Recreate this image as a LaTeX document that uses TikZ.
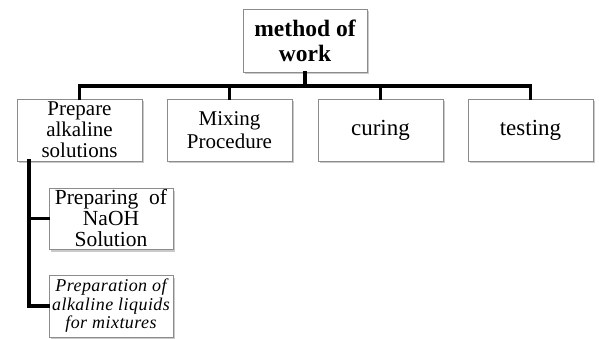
\documentclass[tikz,border=0pt]{standalone}
\usepackage{fontspec}
\setmainfont{Liberation Serif}
\usetikzlibrary{shadows}
\begin{document}
\begin{tikzpicture}[x=1pt,y=-1pt,
  box/.style={draw=black!45, line width=0.9pt, fill=white, align=center,
    minimum width=#1, inner sep=1pt,
    drop shadow={shadow xshift=1.5pt, shadow yshift=-2.5pt, opacity=0.35, fill=black!60}},
  box/.default=124pt,
  conn/.style={line width=3.6pt, line cap=rect}]
\useasboundingbox (0,0) rectangle (599,339);
\node[box, minimum height=63pt, font=\fontsize{23.5}{25}\selectfont\bfseries] (top) at (305,40.5) {method of\\work};
\node[box=125pt, minimum height=62pt, font=\fontsize{21}{21}\selectfont] (b1) at (79.5,130) {Prepare\\alkaline\\solutions};
\node[box=125pt, minimum height=62pt, font=\fontsize{21}{23}\selectfont] (b2) at (229.5,130) {Mixing\\Procedure};
\node[box=125pt, minimum height=62pt, font=\fontsize{23}{24}\selectfont] (b3) at (380.5,130) {curing};
\node[box=125pt, minimum height=62pt, font=\fontsize{23}{24}\selectfont] (b4) at (530.5,130) {testing};
\node[box, minimum height=61pt, font=\fontsize{21.5}{21}\selectfont] (s1) at (111,218.5) {Preparing\ \ of\\NaOH\\Solution};
\node[box, minimum height=62pt, font=\fontsize{18}{18.5}\selectfont\itshape\addfontfeatures{LetterSpace=2.5}] (s2) at (111,306) {Preparation of\\alkaline liquids\\for mixtures};
\coordinate (bar) at (305,86);
\coordinate (v) at (29,161);
\draw[conn] (top.south) -- (bar);
\draw[conn] (bar) -| (b1.north);
\draw[conn] (bar) -| (b2.north);
\draw[conn] (bar) -| (b3.north);
\draw[conn] (bar) -| (b4.north);
\draw[conn] (v) |- (s1.west);
\draw[conn] (v) |- (s2.west);
\end{tikzpicture}
\end{document}
